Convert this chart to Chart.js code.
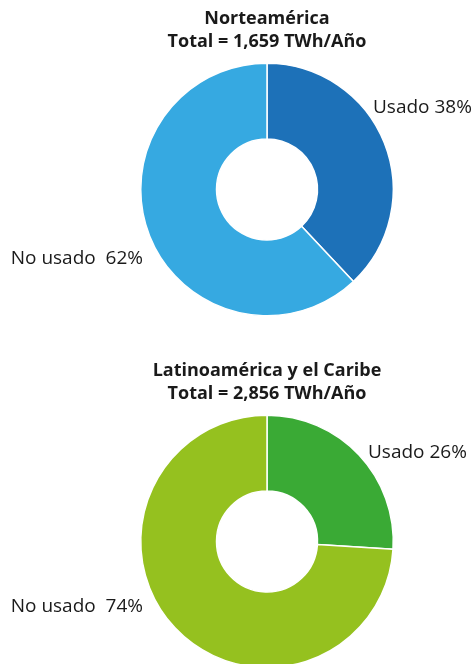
<!DOCTYPE html>
<html>
<head>
<meta charset="utf-8">
<script src="https://cdn.jsdelivr.net/npm/chart.js@4.4.1/dist/chart.umd.min.js"></script>
<style>
  html, body { margin: 0; padding: 0; background: #fff; overflow: hidden; }
  body { width: 475px; height: 664px; position: relative; }
  .box { position: absolute; left: 0; width: 475px; height: 318px; }
</style>
</head>
<body>
<div class="box" style="top:0"><canvas id="norteChart"></canvas></div>
<div class="box" style="top:352px"><canvas id="latamChart"></canvas></div>
<script>
const categories = ['Usado', 'No usado'];
const norteValues = [38, 62];
const latamValues = [26, 74];
const norteTitle = ['Norteamérica', 'Total = 1,659 TWh/Año'];
const latamTitle = ['Latinoamérica y el Caribe', 'Total = 2,856 TWh/Año'];

// text next to each slice, offset from the doughnut centre
const sliceLabels = {
    id: 'sliceLabels',
    afterDraw(chart, args, opts) {
        const meta = chart.getDatasetMeta(0);
        const cx = meta.data[0].x;
        const cy = meta.data[0].y;
        const values = chart.data.datasets[0].data;
        const ctx = chart.ctx;
        ctx.save();
        ctx.font = '19px "Open Sans"';
        ctx.fillStyle = '#1a1a1a';
        ctx.textBaseline = 'middle';
        opts.spots.forEach((s, i) => {
            ctx.textAlign = s.align;
            ctx.fillText(chart.data.labels[i] + s.gap + values[i] + '%', cx + s.dx, cy + s.dy);
        });
        ctx.restore();
    }
};

function makeDonut(id, values, colors, title, spots) {
    const ctx = document.getElementById(id).getContext('2d');
    return new Chart(ctx, {
        type: 'doughnut',
        data: {
            labels: categories,
            datasets: [{
                data: values,
                backgroundColor: colors,
                borderColor: '#ffffff',
                borderWidth: 1.5
            }]
        },
        options: {
            responsive: true,
            maintainAspectRatio: false,
            animation: false,
            cutout: '40%',
            layout: {
                padding: { left: 140, right: 81, top: 0, bottom: 0 }
            },
            plugins: {
                legend: { display: false },
                tooltip: { enabled: false },
                title: {
                    display: true,
                    text: title,
                    color: '#1a1a1a',
                    font: { family: '"Open Sans"', size: 18, weight: 'bold', lineHeight: 1.28 },
                    padding: { top: 7.5, bottom: 7.3 }
                },
                sliceLabels: { spots: spots }
            }
        },
        plugins: [sliceLabels]
    });
}

makeDonut('norteChart', norteValues, ['#1D71B8', '#36A9E1'], norteTitle, [
    { dx: 106, dy: -82, align: 'left', gap: ' ' },
    { dx: -124, dy: 69, align: 'right', gap: '  ' }
]);

makeDonut('latamChart', latamValues, ['#3AAA35', '#95C11F'], latamTitle, [
    { dx: 101, dy: -89, align: 'left', gap: ' ' },
    { dx: -124, dy: 65, align: 'right', gap: '  ' }
]);
</script>
</body>
</html>
